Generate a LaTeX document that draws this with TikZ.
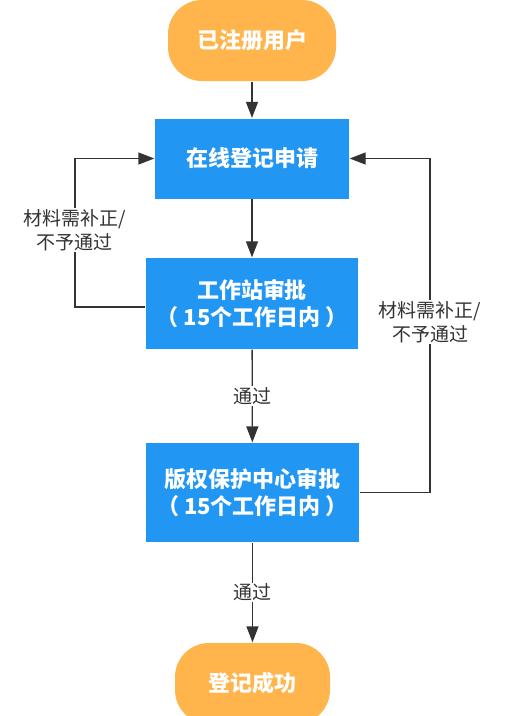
\documentclass[tikz,border=0pt]{standalone}
\usepackage{fontspec}
\setmainfont{Noto Sans CJK SC}
\usetikzlibrary{arrows.meta,positioning}

\definecolor{termorange}{RGB}{255,181,76}
\definecolor{stepblue}{RGB}{33,150,243}
\definecolor{linegray}{RGB}{51,51,51}

\begin{document}
\begin{tikzpicture}[
		x=1pt,y=-1pt,
		terminal/.style={
			rounded corners=34pt,
			fill=termorange,
			text=white,
			font=\fontsize{22}{27}\selectfont\bfseries,
			minimum height=81pt,
			inner sep=0pt,
		},
		stepbox/.style={
			rectangle,
			fill=stepblue,
			text=white,
			align=center,
			font=\fontsize{22}{27}\selectfont\bfseries,
			inner sep=0pt,
		},
		lbl/.style={
			fill=white,
			text=linegray,
			align=center,
			font=\fontsize{19}{24}\selectfont,
			inner sep=1pt,
		},
		line width=1.3pt,
		draw=linegray,
		>={Triangle[length=16pt,width=12pt]}
		]
		\useasboundingbox (0,0) rectangle (509,716);
		% Draw the start and end terminals
		\node [terminal,minimum width=168pt] (start) at (252,40.5) {已注册用户};
		\node [terminal,minimum width=155pt] (done) at (252.5,683.5) {登记成功};
		% Draw the process steps
		\node [stepbox,minimum width=194pt,minimum height=80pt] (apply) at (252,158.5) {在线登记申请};
		\node [stepbox,minimum width=212pt,minimum height=91pt] (station) at (252,303.5) {工作站审批\\（ 15个工作日内 ）};
		\node [stepbox,minimum width=213pt,minimum height=99pt] (center) at (252.5,492.5) {版权保护中心审批\\（ 15个工作日内 ）};
		% Draw the main flow
		\foreach \a/\b in {start/apply,apply/station} {
			\draw[->,linegray] (\a) -- (\b);
		}
		\draw[->,linegray] (station) -- node[lbl] {通过} (center);
		\draw[->,linegray] (center) -- node[lbl] {通过} (done);
		% Draw the return loops
		\coordinate (leftturn) at (75,0);
		\coordinate (rightturn) at (430,0);
		\draw[->,linegray] ([yshift=-3.5pt]station.west) -| (leftturn |- apply.west)
			node[lbl,pos=0.76] {材料需补正/\\不予通过} -- (apply.west);
		\draw[->,linegray] (center.east) -| (rightturn |- apply.east)
			node[lbl,pos=0.755] {材料需补正/\\不予通过} -- (apply.east);
	\end{tikzpicture}
\end{document}
